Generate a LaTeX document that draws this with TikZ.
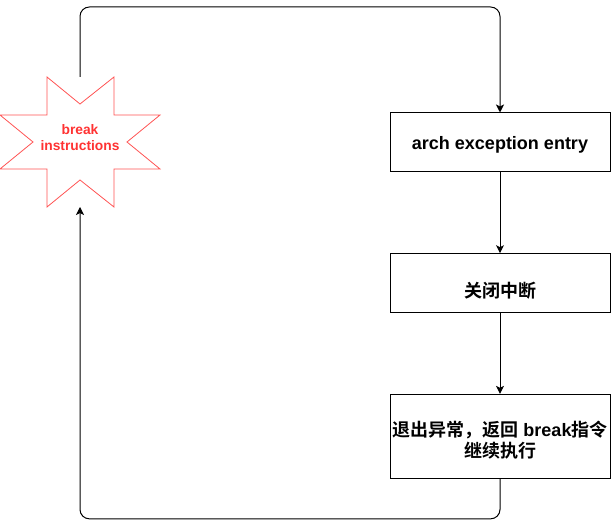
\documentclass[tikz,border=0pt]{standalone}
\usepackage{fontspec}
\setmainfont{Liberation Sans}
\newfontfamily\cjk{Noto Sans CJK SC}[BoldFont={* Bold}]
\usepackage{tikz}
\usetikzlibrary{arrows.meta,positioning}
\definecolor{yildizKirmizi}{HTML}{FF3333}
\definecolor{cizgiSiyah}{HTML}{000000}
\newcommand{\asagi}[2]{\raisebox{-#1}[\height][\depth]{#2}}

\begin{document}
\begin{tikzpicture}[x=0.75pt,y=-0.75pt,node distance=60.5pt,
  kutu/.style={draw=cizgiSiyah,line width=0.75pt,minimum width=165pt,minimum height=44.25pt,inner sep=0pt,align=center,font=\fontsize{13.5}{15}\selectfont\bfseries},
  akis/.style={-{Stealth[length=6pt,width=6pt,inset=1.5pt]},cizgiSiyah,line width=0.75pt,rounded corners=7pt}]
\useasboundingbox (0,0) rectangle (612,527);
% break yildizi
\draw[yildizKirmizi!85,line width=0.6pt] (47,77)--(80,104)--(114,77)--(114,115)--(160,115)--(127,142)--(160,169)--(114,169)--(114,207)--(80,180)--(47,207)--(47,169)--(0,169)--(33,142)--(0,115)--(47,115)--cycle;
\node[yildizKirmizi,align=center,font=\fontsize{10.35}{12}\selectfont\bfseries] (brk) at (80,138) {break\\instructions};
\coordinate (brkN) at (80,77);
\coordinate (brkS) at (80,207);
% kutular
\node[kutu] (entry) at (500,142.5) {\asagi{1.5pt}{arch exception entry}};
\node[kutu,below=of entry] (irq) {\asagi{6pt}{\cjk 关闭中断}};
\node[kutu,below=of irq,minimum height=63pt] (exit) {\asagi{4.5pt}{\begin{tabular}{@{}c@{}}{\cjk 退出异常，返回} break{\cjk 指令}\\{\cjk 继续执行}\end{tabular}}};
% oklar
\draw[akis] (brkN) -- (brkN |- 0,7) -| (entry.north);
\draw[akis] (entry) -- (irq);
\draw[akis] (irq) -- (exit);
\draw[akis] (exit.south) -- ++(0,40) -| (brkS);
\end{tikzpicture}
\end{document}
